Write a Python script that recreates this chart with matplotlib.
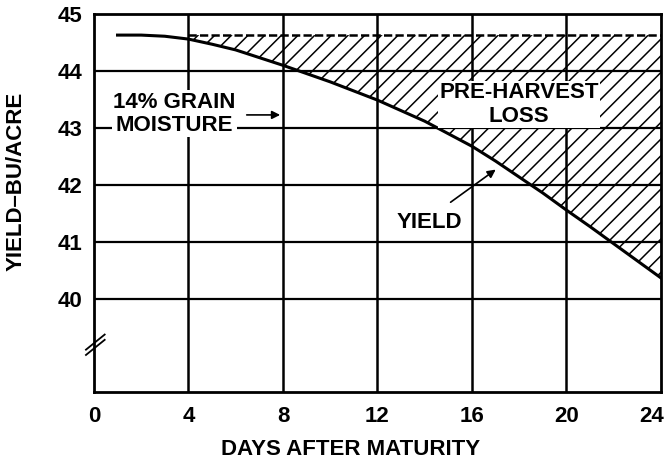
import matplotlib
matplotlib.use("Agg")
import matplotlib.pyplot as plt
import matplotlib.transforms as mtrans
import numpy as np

days = [1, 2, 3, 4, 5, 6, 8, 10, 12, 14, 16, 17, 18, 19, 20, 21, 22, 23, 24]
yield_bu = [44.63, 44.63, 44.61, 44.56, 44.47, 44.37, 44.10, 43.81, 43.49, 43.12, 42.68,
            42.42, 42.14, 41.86, 41.56, 41.27, 40.97, 40.67, 40.37]
max_yield = 44.63
loss_start = 4
x_ticks = [0, 4, 8, 12, 16, 20, 24]
y_ticks = [40, 41, 42, 43, 44, 45]

plt.rcParams['font.family'] = ['Liberation Sans', 'DejaVu Sans']
plt.rcParams['font.weight'] = 'bold'
plt.rcParams['hatch.linewidth'] = 1.1

FS = 16
fig = plt.figure(figsize=(6.66, 4.62), dpi=100)
ax = fig.add_axes([0.141, 0.1515, 0.8515, 0.8182])
ax.set_xlim(0, 24)
ax.set_ylim(38.37, 45)

for x in x_ticks[1:-1]:
    ax.axvline(x, color='black', lw=1.8, zorder=1)
for y in y_ticks[:-1]:
    ax.axhline(y, color='black', lw=1.6, zorder=1)

d = np.array(days, dtype=float)
yv = np.array(yield_bu)
mask = d >= loss_start
ax.fill_between(d[mask], yv[mask], max_yield, facecolor='none', edgecolor='black',
                hatch='//', lw=0, zorder=2)
ax.plot(days, yield_bu, color='black', lw=2.2, zorder=3, solid_joinstyle='round')
ax.plot([loss_start, 24], [max_yield, max_yield], color='black', lw=1.8,
        dashes=(3.3, 1.3), zorder=3)

for s in ax.spines.values():
    s.set_linewidth(2)

ax.set_xticks(x_ticks)
ax.set_yticks(y_ticks)
ax.tick_params(length=0, labelsize=FS)
ax.tick_params(axis='x', pad=10)
ax.tick_params(axis='y', pad=8)
for lab in ax.get_xticklabels() + ax.get_yticklabels():
    lab.set_fontweight('bold')
last = ax.get_xticklabels()[-1]
last.set_transform(last.get_transform() + mtrans.ScaledTranslation(-9 / 100, 0, fig.dpi_scale_trans))

ax.set_xlabel('DAYS AFTER MATURITY', fontsize=FS, fontweight='bold')
ax.xaxis.set_label_coords(0.453, -0.125)
ax.set_ylabel('YIELD\u2013BU/ACRE', fontsize=FS, fontweight='bold')
ax.yaxis.set_label_coords(-0.118, 0.556)

# axis break mark
for off in (0.0, 0.014):
    ax.plot([-0.014, 0.019], [0.098 + off, 0.138 + off], transform=ax.transAxes,
            color='black', lw=1.3, clip_on=False, zorder=5)

bbox = dict(facecolor='white', edgecolor='none', pad=1)
ax.text(3.41, 43.25, '14% GRAIN\nMOISTURE', fontsize=FS, fontweight='bold', ha='center',
        va='center', linespacing=1.15, bbox=bbox, zorder=4)
ax.annotate('', xy=(8.0, 43.23), xytext=(6.35, 43.23),
            arrowprops=dict(arrowstyle='-|>', color='black', lw=1.2, mutation_scale=12), zorder=4)
ax.text(17.99, 43.41, 'PRE-HARVEST\nLOSS', fontsize=FS, fontweight='bold', ha='center',
        va='center', linespacing=1.15, bbox=bbox, zorder=4)
ax.text(14.2, 41.35, 'YIELD', fontsize=FS, fontweight='bold', ha='center',
        va='center', bbox=bbox, zorder=4)
ax.annotate('', xy=(17.1, 42.3), xytext=(15.0, 41.67),
            arrowprops=dict(arrowstyle='-|>', color='black', lw=1.2, mutation_scale=12), zorder=4)

fig.savefig('out.png', dpi=100)
